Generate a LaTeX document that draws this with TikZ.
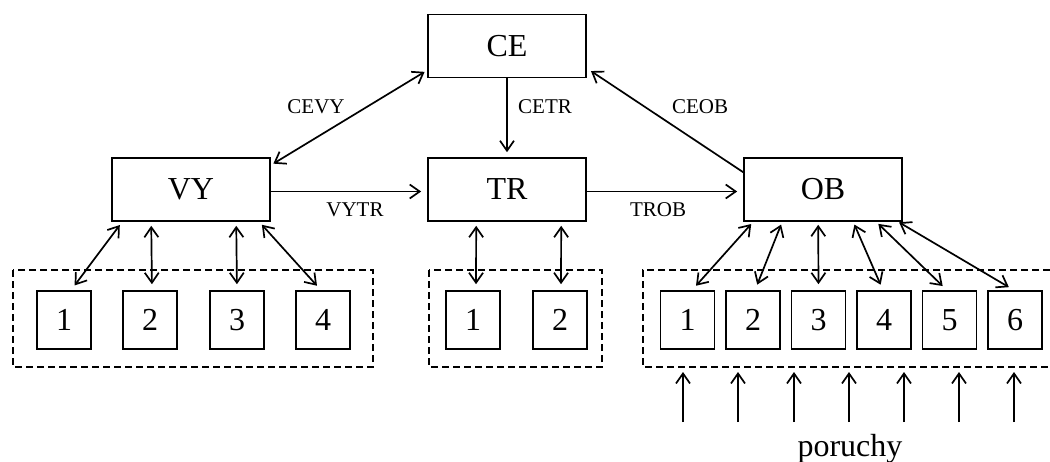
\documentclass[tikz,border=0pt]{standalone}
\usepackage{fontspec}
\setmainfont{Liberation Serif}
\usetikzlibrary{arrows.meta}
\begin{document}
\begin{tikzpicture}[x=0.5pt,y=-0.5pt,
  bigbox/.style={draw,line width=0.8pt,minimum width=79pt,minimum height=31.5pt,inner sep=0pt,font=\fontsize{16}{18}\selectfont},
  smallbox/.style={draw,line width=0.8pt,minimum width=27pt,minimum height=29pt,inner sep=0pt,font=\fontsize{16}{18}\selectfont},
  grp/.style={line width=0.8pt,dash pattern=on 3.5pt off 2pt},
  lbl/.style={inner sep=0pt,font=\fontsize{10.5}{12}\selectfont},
  tip/.tip={Straight Barb[length=5pt,width=7pt]},
  arr/.style={line width=0.85pt,-tip},
  dbl/.style={line width=0.85pt,tip-tip}]
\useasboundingbox (0,0) rectangle (1050,461);
% dashed groups
\draw[grp] (13,270) rectangle (373,367);
\draw[grp] (429,270) rectangle (602,367);
\draw[grp] (1050,270) -- (643,270) -- (643,367) -- (1050,367);
% main boxes
\node[bigbox] (ce) at (507,46) {CE};
\node[bigbox] (vy) at (191,189.5) {VY};
\node[bigbox] (tr) at (507,189.5) {TR};
\node[bigbox] (ob) at (823,189.5) {OB};
% small boxes
\foreach \x [count=\i] in {64,150,237,323} \node[smallbox] (v\i) at (\x,320) {\i};
\foreach \x [count=\i] in {473,560} \node[smallbox] (t\i) at (\x,320) {\i};
\foreach \x [count=\i] in {687.5,753,818.5,884,949.5,1015} \node[smallbox] (o\i) at (\x,320) {\i};
% top connectors
\draw[dbl,shorten <=1.5pt,shorten >=1.5pt] ([shift={(0,8)}]vy.north east) -- ([shift={(0,-8)}]ce.south west);
\draw[arr,shorten >=2.5pt] (ce.south) -- (tr.north);
\draw[arr,shorten >=2.5pt] ([shift={(0,15)}]ob.north west) -- ([shift={(0,-10)}]ce.south east);
\draw[arr,shorten >=3pt] ([shift={(0,2)}]vy.east) -- ([shift={(0,2)}]tr.west);
\draw[arr,shorten >=3pt] ([shift={(0,2)}]tr.east) -- ([shift={(0,2)}]ob.west);
% labels
\node[lbl] (lcevy) at (316,107) {CEVY};
\node[lbl] (lcetr) at (545,107) {CETR};
\node[lbl] (lceob) at (700,107) {CEOB};
\node[lbl] (lvytr) at (355,210) {VYTR};
\node[lbl] (ltrob) at (658,210) {TROB};
% VY children
\draw[dbl,shorten <=2pt,shorten >=3pt] ([shift={(11,0)}]vy.south west) -- ([shift={(7,0)}]v1.north);
\draw[dbl,shorten <=2pt,shorten >=3pt] ([shift={(40,0)}]vy.south west) -- ([shift={(2,0)}]v2.north);
\draw[dbl,shorten <=2pt,shorten >=3pt] ([shift={(125,0)}]vy.south west) -- (v3.north);
\draw[dbl,shorten <=2pt,shorten >=3pt] ([shift={(148,0)}]vy.south west) -- ([shift={(-2,0)}]v4.north);
% TR children
\draw[dbl,shorten <=2pt,shorten >=3pt] ([shift={(49,0)}]tr.south west) -- ([shift={(3,0)}]t1.north);
\draw[dbl,shorten <=2pt,shorten >=3pt] ([shift={(134,0)}]tr.south west) -- ([shift={(1,0)}]t2.north);
% OB children
\draw[dbl,shorten <=1.5pt,shorten >=3pt] ([shift={(10,0)}]ob.south west) -- ([shift={(4.5,0)}]o1.north);
\draw[dbl,shorten <=1.5pt,shorten >=3pt] ([shift={(39,0)}]ob.south west) -- ([shift={(2,0)}]o2.north);
\draw[dbl,shorten <=1.5pt,shorten >=3pt] ([shift={(75,0)}]ob.south west) -- (o3.north);
\draw[dbl,shorten <=1.5pt,shorten >=3pt] ([shift={(110,0)}]ob.south west) -- ([shift={(-1,0)}]o4.north);
\draw[dbl,shorten <=1.5pt,shorten >=3pt] ([shift={(133,0)}]ob.south west) -- ([shift={(-2.5,0)}]o5.north);
\draw[dbl,shorten <=0.5pt,shorten >=3pt] ([shift={(155,0)}]ob.south west) -- ([shift={(-1,0)}]o6.north);
% disturbances
\foreach \x [count=\i] in {683,738,794,849,904,959,1014} {
  \coordinate (p\i) at (\x,422);
  \coordinate (q\i) at (\x,372);
  \draw[arr] (p\i) -- (q\i);
}
\node[anchor=base,inner sep=0pt,font=\fontsize{16}{18}\selectfont] (por) at (850,456) {poruchy};
\end{tikzpicture}
\end{document}
